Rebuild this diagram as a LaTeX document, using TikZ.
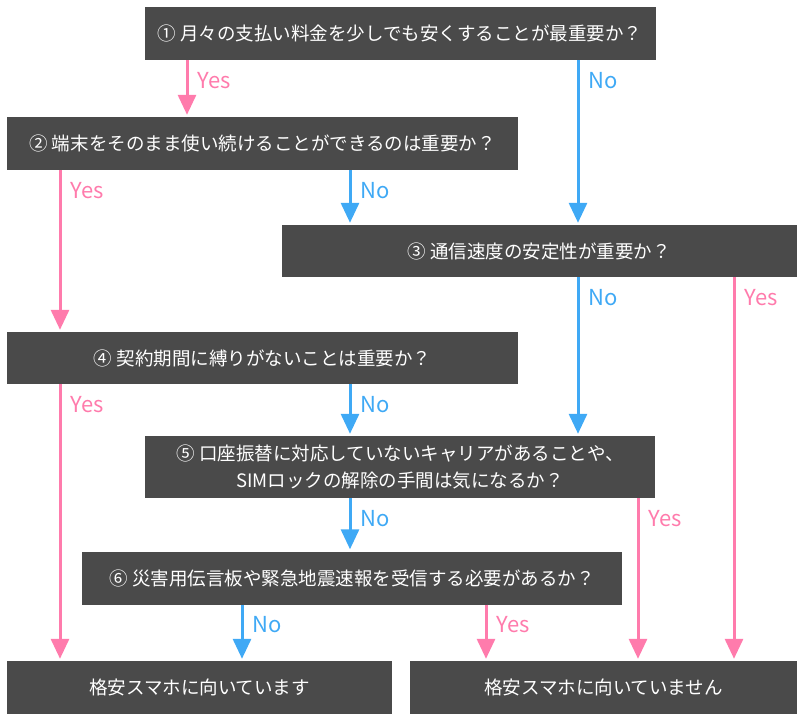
\documentclass[tikz,border=0pt]{standalone}
\usepackage{fontspec}
\setmainfont{Noto Sans CJK JP}
\usetikzlibrary{arrows.meta}
\definecolor{boxgray}{HTML}{4A4A4A}
\definecolor{yespink}{HTML}{FF7BAC}
\definecolor{noblue}{HTML}{3FA9F5}
\tikzset{
  qbox/.style={fill=boxgray, text=white, minimum height=53pt, inner sep=0pt,
    align=center, font=\fontsize{18.5}{27}\selectfont},
  yesarrow/.style={draw=yespink, line width=3pt,
    -{Triangle[width=18pt,length=20pt]}, shorten >=2pt},
  noarrow/.style={draw=noblue, line width=3pt,
    -{Triangle[width=18pt,length=20pt]}, shorten >=2pt},
  yeslabel/.style={text=yespink, at start, anchor=west, xshift=9pt, yshift=-20pt,
    inner sep=0pt, font=\fontsize{22}{22}\selectfont},
  nolabel/.style={text=noblue, at start, anchor=west, xshift=9pt, yshift=-20pt,
    inner sep=0pt, font=\fontsize{22}{22}\selectfont},
}
\begin{document}
\begin{tikzpicture}[x=1pt,y=-1pt]
      \useasboundingbox (0,0) rectangle (800,722);
      \node[qbox, minimum width=511pt] (q1) at (400,33.5) {① 月々の支払い料金を少しでも安くすることが最重要か？};
      \node[qbox, minimum width=511pt] (q2) at (262.5,143.5) {② 端末をそのまま使い続けることができるのは重要か？};
      \node[qbox, minimum width=515pt, minimum height=52pt] (q3) at (539,251) {③ 通信速度の安定性が重要か？};
      \node[qbox, minimum width=511pt, minimum height=52pt] (q4) at (262.5,358) {④ 契約期間に縛りがないことは重要か？};
      \node[qbox, minimum width=510pt, minimum height=62pt] (q5) at (400,467) {⑤ 口座振替に対応していないキャリアがあることや、\\SIMロックの解除の手間は気になるか？};
      \node[qbox, minimum width=540pt] (q6) at (352,578) {⑥ 災害用伝言板や緊急地震速報を受信する必要があるか？};
      \node[qbox, minimum width=385pt] (r1) at (199.5,687.5) {格安スマホに向いています};
      \node[qbox, minimum width=387pt] (r2) at (603.5,687.5) {格安スマホに向いていません};
      \coordinate (xa) at (60,0);
      \coordinate (xb) at (187,0);
      \coordinate (xc) at (242,0);
      \coordinate (xd) at (350,0);
      \coordinate (xe) at (486,0);
      \coordinate (xf) at (578,0);
      \coordinate (xg) at (638,0);
      \coordinate (xh) at (734,0);
      \begin{scope}
        \draw[yesarrow] (q1.south -| xb) -- node[yeslabel] (y1) {Yes} (q2.north -| xb);
        \draw[noarrow] (q1.south -| xf) -- node[nolabel] (n1) {No} (q3.north -| xf);
        \draw[yesarrow] (q2.south -| xa) -- node[yeslabel] (y2) {Yes} (q4.north -| xa);
        \draw[noarrow] (q2.south -| xd) -- node[nolabel] (n2) {No} (q3.north -| xd);
        \draw[noarrow] (q3.south -| xf) -- node[nolabel] (n3) {No} (q5.north -| xf);
        \draw[yesarrow] (q3.south -| xh) -- node[yeslabel] (y3) {Yes} (r2.north -| xh);
        \draw[yesarrow] (q4.south -| xa) -- node[yeslabel] (y4) {Yes} (r1.north -| xa);
        \draw[noarrow] (q4.south -| xd) -- node[nolabel] (n4) {No} (q5.north -| xd);
        \draw[noarrow] (q5.south -| xd) -- node[nolabel] (n5) {No} (q6.north -| xd);
        \draw[yesarrow] (q5.south -| xg) -- node[yeslabel] (y5) {Yes} (r2.north -| xg);
        \draw[noarrow] (q6.south -| xc) -- node[nolabel] (n6) {No} (r1.north -| xc);
        \draw[yesarrow] (q6.south -| xe) -- node[yeslabel] (y6) {Yes} (r2.north -| xe);
      \end{scope}
\end{tikzpicture}
\end{document}
